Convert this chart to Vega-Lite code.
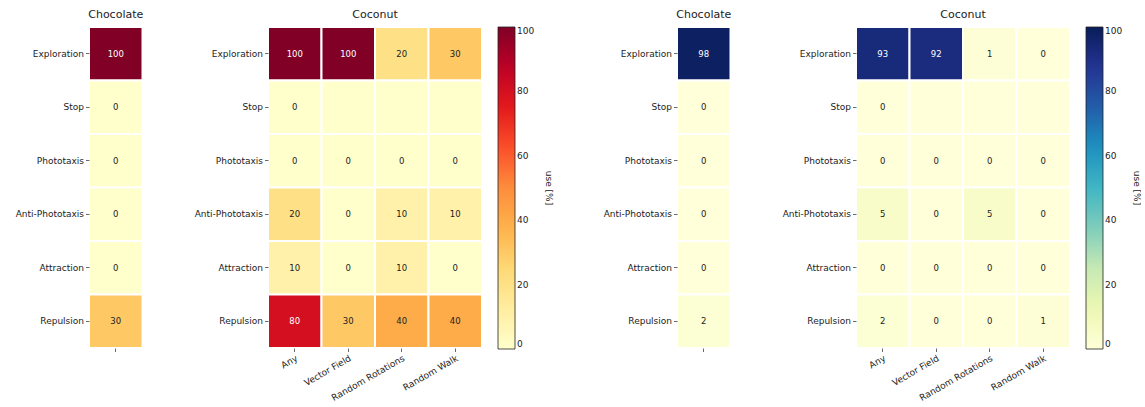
{
  "$schema": "https://vega.github.io/schema/vega-lite/v6.json",
  "padding": {"left": 15, "top": 9, "right": 0, "bottom": 0},
  "background": "white",
  "datasets": {
    "a_choc": [
      {"behavior": "Exploration", "method": "Chocolate", "value": 100, "label": "100"},
      {"behavior": "Stop", "method": "Chocolate", "value": 0, "label": "0"},
      {"behavior": "Phototaxis", "method": "Chocolate", "value": 0, "label": "0"},
      {"behavior": "Anti-Phototaxis", "method": "Chocolate", "value": 0, "label": "0"},
      {"behavior": "Attraction", "method": "Chocolate", "value": 0, "label": "0"},
      {"behavior": "Repulsion", "method": "Chocolate", "value": 30, "label": "30"}
    ],
    "a_coco": [
      {"behavior": "Exploration", "method": "Any", "value": 100, "label": "100"},
      {"behavior": "Exploration", "method": "Vector Field", "value": 100, "label": "100"},
      {"behavior": "Exploration", "method": "Random Rotations", "value": 20, "label": "20"},
      {"behavior": "Exploration", "method": "Random Walk", "value": 30, "label": "30"},
      {"behavior": "Stop", "method": "Any", "value": 0, "label": "0"},
      {"behavior": "Stop", "method": "Vector Field", "value": 0, "label": ""},
      {"behavior": "Stop", "method": "Random Rotations", "value": 0, "label": ""},
      {"behavior": "Stop", "method": "Random Walk", "value": 0, "label": ""},
      {"behavior": "Phototaxis", "method": "Any", "value": 0, "label": "0"},
      {"behavior": "Phototaxis", "method": "Vector Field", "value": 0, "label": "0"},
      {"behavior": "Phototaxis", "method": "Random Rotations", "value": 0, "label": "0"},
      {"behavior": "Phototaxis", "method": "Random Walk", "value": 0, "label": "0"},
      {"behavior": "Anti-Phototaxis", "method": "Any", "value": 20, "label": "20"},
      {"behavior": "Anti-Phototaxis", "method": "Vector Field", "value": 0, "label": "0"},
      {"behavior": "Anti-Phototaxis", "method": "Random Rotations", "value": 10, "label": "10"},
      {"behavior": "Anti-Phototaxis", "method": "Random Walk", "value": 10, "label": "10"},
      {"behavior": "Attraction", "method": "Any", "value": 10, "label": "10"},
      {"behavior": "Attraction", "method": "Vector Field", "value": 0, "label": "0"},
      {"behavior": "Attraction", "method": "Random Rotations", "value": 10, "label": "10"},
      {"behavior": "Attraction", "method": "Random Walk", "value": 0, "label": "0"},
      {"behavior": "Repulsion", "method": "Any", "value": 80, "label": "80"},
      {"behavior": "Repulsion", "method": "Vector Field", "value": 30, "label": "30"},
      {"behavior": "Repulsion", "method": "Random Rotations", "value": 40, "label": "40"},
      {"behavior": "Repulsion", "method": "Random Walk", "value": 40, "label": "40"}
    ],
    "b_choc": [
      {"behavior": "Exploration", "method": "Chocolate", "value": 98, "label": "98"},
      {"behavior": "Stop", "method": "Chocolate", "value": 0, "label": "0"},
      {"behavior": "Phototaxis", "method": "Chocolate", "value": 0, "label": "0"},
      {"behavior": "Anti-Phototaxis", "method": "Chocolate", "value": 0, "label": "0"},
      {"behavior": "Attraction", "method": "Chocolate", "value": 0, "label": "0"},
      {"behavior": "Repulsion", "method": "Chocolate", "value": 2, "label": "2"}
    ],
    "b_coco": [
      {"behavior": "Exploration", "method": "Any", "value": 93, "label": "93"},
      {"behavior": "Exploration", "method": "Vector Field", "value": 92, "label": "92"},
      {"behavior": "Exploration", "method": "Random Rotations", "value": 1, "label": "1"},
      {"behavior": "Exploration", "method": "Random Walk", "value": 0, "label": "0"},
      {"behavior": "Stop", "method": "Any", "value": 0, "label": "0"},
      {"behavior": "Stop", "method": "Vector Field", "value": 0, "label": ""},
      {"behavior": "Stop", "method": "Random Rotations", "value": 0, "label": ""},
      {"behavior": "Stop", "method": "Random Walk", "value": 0, "label": ""},
      {"behavior": "Phototaxis", "method": "Any", "value": 0, "label": "0"},
      {"behavior": "Phototaxis", "method": "Vector Field", "value": 0, "label": "0"},
      {"behavior": "Phototaxis", "method": "Random Rotations", "value": 0, "label": "0"},
      {"behavior": "Phototaxis", "method": "Random Walk", "value": 0, "label": "0"},
      {"behavior": "Anti-Phototaxis", "method": "Any", "value": 5, "label": "5"},
      {"behavior": "Anti-Phototaxis", "method": "Vector Field", "value": 0, "label": "0"},
      {"behavior": "Anti-Phototaxis", "method": "Random Rotations", "value": 5, "label": "5"},
      {"behavior": "Anti-Phototaxis", "method": "Random Walk", "value": 0, "label": "0"},
      {"behavior": "Attraction", "method": "Any", "value": 0, "label": "0"},
      {"behavior": "Attraction", "method": "Vector Field", "value": 0, "label": "0"},
      {"behavior": "Attraction", "method": "Random Rotations", "value": 0, "label": "0"},
      {"behavior": "Attraction", "method": "Random Walk", "value": 0, "label": "0"},
      {"behavior": "Repulsion", "method": "Any", "value": 2, "label": "2"},
      {"behavior": "Repulsion", "method": "Vector Field", "value": 0, "label": "0"},
      {"behavior": "Repulsion", "method": "Random Rotations", "value": 0, "label": "0"},
      {"behavior": "Repulsion", "method": "Random Walk", "value": 1, "label": "1"}
    ]
  },
  "resolve": {"scale": {"color": "independent", "x": "independent", "y": "independent"}, "legend": {"color": "independent"}},
  "hconcat": [
    {
      "title": "Chocolate",
      "width": 53.5,
      "height": 321,
      "data": {"name": "a_choc"},
      "encoding": {
        "y": {"field": "behavior", "type": "nominal", "sort": ["Exploration", "Stop", "Phototaxis", "Anti-Phototaxis", "Attraction", "Repulsion"], "scale": {"paddingInner": 0, "paddingOuter": 0}, "axis": {"title": null}},
        "x": {"field": "method", "type": "nominal", "scale": {"paddingInner": 0, "paddingOuter": 0}, "axis": {"title": null, "labels": false}}
      },
      "layer": [
        {"mark": {"type": "rect", "stroke": "white", "strokeWidth": 2}, "encoding": {"color": {"field": "value", "type": "quantitative", "scale": {"domain": [0, 100], "range": ["#ffffcc", "#ffeda0", "#fed976", "#feb24c", "#fd8d3c", "#fc4e2a", "#e31a1c", "#bd0026", "#800026"], "interpolate": "rgb"}, "legend": null}}},
        {"mark": {"type": "text", "fontSize": 8.5}, "encoding": {"text": {"field": "label"}, "color": {"condition": {"test": "datum.value > 60", "value": "white"}, "value": "#222"}}}
      ]
    },
    {
      "title": "Coconut",
      "width": 214,
      "height": 321,
      "data": {"name": "a_coco"},
      "encoding": {
        "y": {"field": "behavior", "type": "nominal", "sort": ["Exploration", "Stop", "Phototaxis", "Anti-Phototaxis", "Attraction", "Repulsion"], "scale": {"paddingInner": 0, "paddingOuter": 0}, "axis": {"title": null}},
        "x": {"field": "method", "type": "nominal", "sort": ["Any", "Vector Field", "Random Rotations", "Random Walk"], "scale": {"paddingInner": 0, "paddingOuter": 0}, "axis": {"title": null, "labelAngle": -30, "labelAlign": "right", "labelBaseline": "top"}}
      },
      "layer": [
        {"mark": {"type": "rect", "stroke": "white", "strokeWidth": 2}, "encoding": {"color": {"field": "value", "type": "quantitative", "scale": {"domain": [0, 100], "range": ["#ffffcc", "#ffeda0", "#fed976", "#feb24c", "#fd8d3c", "#fc4e2a", "#e31a1c", "#bd0026", "#800026"], "interpolate": "rgb"}, "legend": {"title": "use [%]", "values": [0, 20, 40, 60, 80, 100]}}}},
        {"mark": {"type": "text", "fontSize": 8.5}, "encoding": {"text": {"field": "label"}, "color": {"condition": {"test": "datum.value > 60", "value": "white"}, "value": "#222"}}}
      ]
    },
    {
      "title": "Chocolate",
      "width": 53.5,
      "height": 321,
      "data": {"name": "b_choc"},
      "encoding": {
        "y": {"field": "behavior", "type": "nominal", "sort": ["Exploration", "Stop", "Phototaxis", "Anti-Phototaxis", "Attraction", "Repulsion"], "scale": {"paddingInner": 0, "paddingOuter": 0}, "axis": {"title": null}},
        "x": {"field": "method", "type": "nominal", "scale": {"paddingInner": 0, "paddingOuter": 0}, "axis": {"title": null, "labels": false}}
      },
      "layer": [
        {"mark": {"type": "rect", "stroke": "white", "strokeWidth": 2}, "encoding": {"color": {"field": "value", "type": "quantitative", "scale": {"domain": [0, 100], "range": ["#ffffd9", "#edf8b1", "#c7e9b4", "#7fcdbb", "#41b6c4", "#1d91c0", "#225ea8", "#253494", "#081d58"], "interpolate": "rgb"}, "legend": null}}},
        {"mark": {"type": "text", "fontSize": 8.5}, "encoding": {"text": {"field": "label"}, "color": {"condition": {"test": "datum.value > 60", "value": "white"}, "value": "#222"}}}
      ]
    },
    {
      "title": "Coconut",
      "width": 214,
      "height": 321,
      "data": {"name": "b_coco"},
      "encoding": {
        "y": {"field": "behavior", "type": "nominal", "sort": ["Exploration", "Stop", "Phototaxis", "Anti-Phototaxis", "Attraction", "Repulsion"], "scale": {"paddingInner": 0, "paddingOuter": 0}, "axis": {"title": null}},
        "x": {"field": "method", "type": "nominal", "sort": ["Any", "Vector Field", "Random Rotations", "Random Walk"], "scale": {"paddingInner": 0, "paddingOuter": 0}, "axis": {"title": null, "labelAngle": -30, "labelAlign": "right", "labelBaseline": "top"}}
      },
      "layer": [
        {"mark": {"type": "rect", "stroke": "white", "strokeWidth": 2}, "encoding": {"color": {"field": "value", "type": "quantitative", "scale": {"domain": [0, 100], "range": ["#ffffd9", "#edf8b1", "#c7e9b4", "#7fcdbb", "#41b6c4", "#1d91c0", "#225ea8", "#253494", "#081d58"], "interpolate": "rgb"}, "legend": {"title": "use [%]", "values": [0, 20, 40, 60, 80, 100]}}}},
        {"mark": {"type": "text", "fontSize": 8.5}, "encoding": {"text": {"field": "label"}, "color": {"condition": {"test": "datum.value > 60", "value": "white"}, "value": "#222"}}}
      ]
    }
  ],
  "config": {
    "font": "DejaVu Sans",
    "view": {"stroke": null},
    "concat": {"spacing": 50},
    "axis": {"domain": false, "grid": false, "labelFontSize": 9, "labelColor": "#222", "tickColor": "#444", "tickSize": 3.5, "tickWidth": 0.8, "labelPadding": 2},
    "title": {"fontSize": 11, "fontWeight": "normal", "color": "#222", "offset": 6},
    "legend": {
      "orient": "right",
      "offset": 16,
      "padding": 0,
      "gradientLength": 322,
      "gradientVerticalMaxLength": 400,
      "gradientThickness": 17,
      "gradientStrokeColor": "#222",
      "gradientStrokeWidth": 0.8,
      "labelFontSize": 9,
      "labelColor": "#222",
      "labelOffset": 12,
      "titleFontSize": 9,
      "titleFontWeight": "normal",
      "titleColor": "#222",
      "titleOrient": "right",
      "titleAngle": 90,
      "titleAnchor": "middle",
      "titleBaseline": "middle",
      "titlePadding": 15
    }
  }
}
